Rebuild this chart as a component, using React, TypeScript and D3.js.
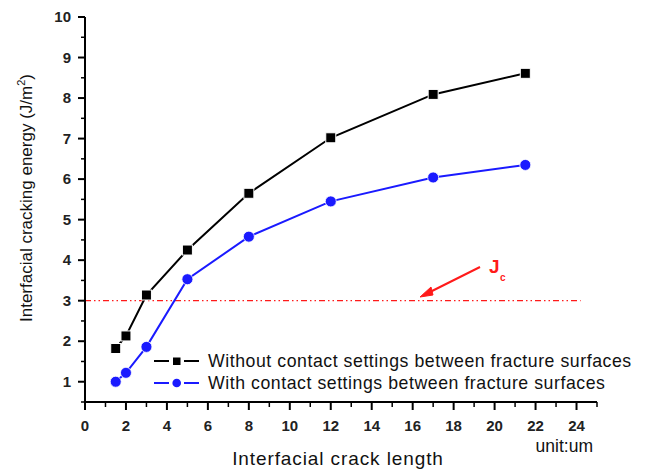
import React from "react";
import * as d3 from "d3";

const xs = [1.5, 2, 3, 5, 8, 12, 17, 21.5];
const withoutContact = [1.82, 2.13, 3.14, 4.25, 5.65, 7.02, 8.09, 8.61];
const withContact = [1.0, 1.22, 1.86, 3.53, 4.58, 5.45, 6.04, 6.35];
const xTicks = [0, 2, 4, 6, 8, 10, 12, 14, 16, 18, 20, 22, 24];
const yTicks = [1, 2, 3, 4, 5, 6, 7, 8, 9, 10];
const jcValue = 3;
const legendLabels = [
  "Without contact settings between fracture surfaces",
  "With contact settings between fracture surfaces",
];

export default function App() {
  const W = 646, H = 469;
  const x = d3.scaleLinear().domain([0, 25]).range([85, 597]);
  const y = d3.scaleLinear().domain([0.5, 10]).range([402, 17]);
  const line = d3.line<number>().x((_, i) => x(xs[i])).y((d) => y(d));
  const minorX = d3.range(1, 25, 2);
  const minorY = d3.range(0.5, 10, 1);
  const font = "Arial, 'Liberation Sans', sans-serif";
  const red = "#ff1a1a";
  const blue = "#1a1aff";
  return (
    <svg width={W} height={H} style={{ position: "absolute", left: 0, top: 0, background: "#fff" }} fontFamily={font}>
      <rect width={W} height={H} fill="#fff" />
      {/* Jc line */}
      <line x1={x(0)} x2={x(24.2)} y1={y(jcValue)} y2={y(jcValue)} stroke={red} strokeWidth={1.3} strokeDasharray="6 3 1.5 3 1.5 3" />
      {/* axes */}
      <line x1={x(0)} x2={x(25)} y1={y(0.5)} y2={y(0.5)} stroke="#000" strokeWidth={2} />
      <line x1={x(0)} x2={x(0)} y1={y(0.5)} y2={y(10)} stroke="#000" strokeWidth={2} />
      {xTicks.map((t) => (
        <g key={"xt" + t}>
          <line x1={x(t)} x2={x(t)} y1={y(0.5)} y2={y(0.5) + 8} stroke="#000" strokeWidth={2} />
          <text x={x(t)} y={y(0.5) + 29} textAnchor="middle" fontSize={15} fontWeight="bold" fill="#222">{t}</text>
        </g>
      ))}
      {minorX.map((t) => (
        <line key={"xm" + t} x1={x(t)} x2={x(t)} y1={y(0.5)} y2={y(0.5) + 5} stroke="#000" strokeWidth={1.5} />
      ))}
      <line x1={x(25)} x2={x(25)} y1={y(0.5)} y2={y(0.5) + 5} stroke="#000" strokeWidth={1.5} />
      {yTicks.map((t) => (
        <g key={"yt" + t}>
          <line x1={x(0) - 7} x2={x(0)} y1={y(t)} y2={y(t)} stroke="#000" strokeWidth={2} />
          <text x={x(0) - 14} y={y(t) + 5} textAnchor="end" fontSize={15} fontWeight="bold" fill="#222">{t}</text>
        </g>
      ))}
      {minorY.map((t) => (
        <line key={"ym" + t} x1={x(0) - 4} x2={x(0)} y1={y(t)} y2={y(t)} stroke="#000" strokeWidth={1.5} />
      ))}
      {/* series */}
      <path d={line(withoutContact) || ""} fill="none" stroke="#000" strokeWidth={2} />
      <path d={line(withContact) || ""} fill="none" stroke={blue} strokeWidth={2} />
      {withoutContact.map((v, i) => (
        <rect key={"s" + i} x={x(xs[i]) - 5} y={y(v) - 5} width={10} height={10} fill="#000" stroke="#fff" strokeWidth={1} />
      ))}
      {withContact.map((v, i) => (
        <circle key={"c" + i} cx={x(xs[i])} cy={y(v)} r={5.5} fill={blue} stroke="#fff" strokeWidth={0.8} />
      ))}
      {/* Jc annotation */}
      <line x1={480} y1={267} x2={428} y2={293} stroke={red} strokeWidth={2} />
      <path d="M420,297 L431,287 L433,295 Z" fill={red} stroke={red} strokeWidth={1} />
      <text x={489} y={273} fontSize={19} fontWeight="bold" fill={red}>J</text>
      <text x={500} y={281} fontSize={10} fontWeight="bold" fill={red}>c</text>
      {/* legend */}
      <line x1={154} x2={169} y1={361} y2={361} stroke="#000" strokeWidth={2} />
      <line x1={184} x2={199} y1={361} y2={361} stroke="#000" strokeWidth={2} />
      <rect x={173} y={357.5} width={7.5} height={7.5} fill="#000" />
      <text x={208} y={367} fontSize={17.7} letterSpacing={0.55} fill="#111">{legendLabels[0]}</text>
      <line x1={154} x2={169} y1={383} y2={383} stroke={blue} strokeWidth={2} />
      <line x1={184} x2={199} y1={383} y2={383} stroke={blue} strokeWidth={2} />
      <circle cx={176.7} cy={383} r={4.3} fill={blue} />
      <text x={208} y={389} fontSize={17.7} letterSpacing={0.55} fill="#111">{legendLabels[1]}</text>
      {/* titles */}
      <text x={593} y={452} textAnchor="end" fontSize={17.5} fill="#111">unit:um</text>
      <text x={338} y={465} textAnchor="middle" fontSize={19} letterSpacing={0.9} fill="#111">Interfacial crack length</text>
      <text transform={`translate(32, 198) rotate(-90)`} textAnchor="middle" fontSize={17} fill="#111">
        Interfacial cracking energy (J/m<tspan dy={-7} fontSize={11}>2</tspan><tspan dy={7}>)</tspan>
      </text>
    </svg>
  );
}
